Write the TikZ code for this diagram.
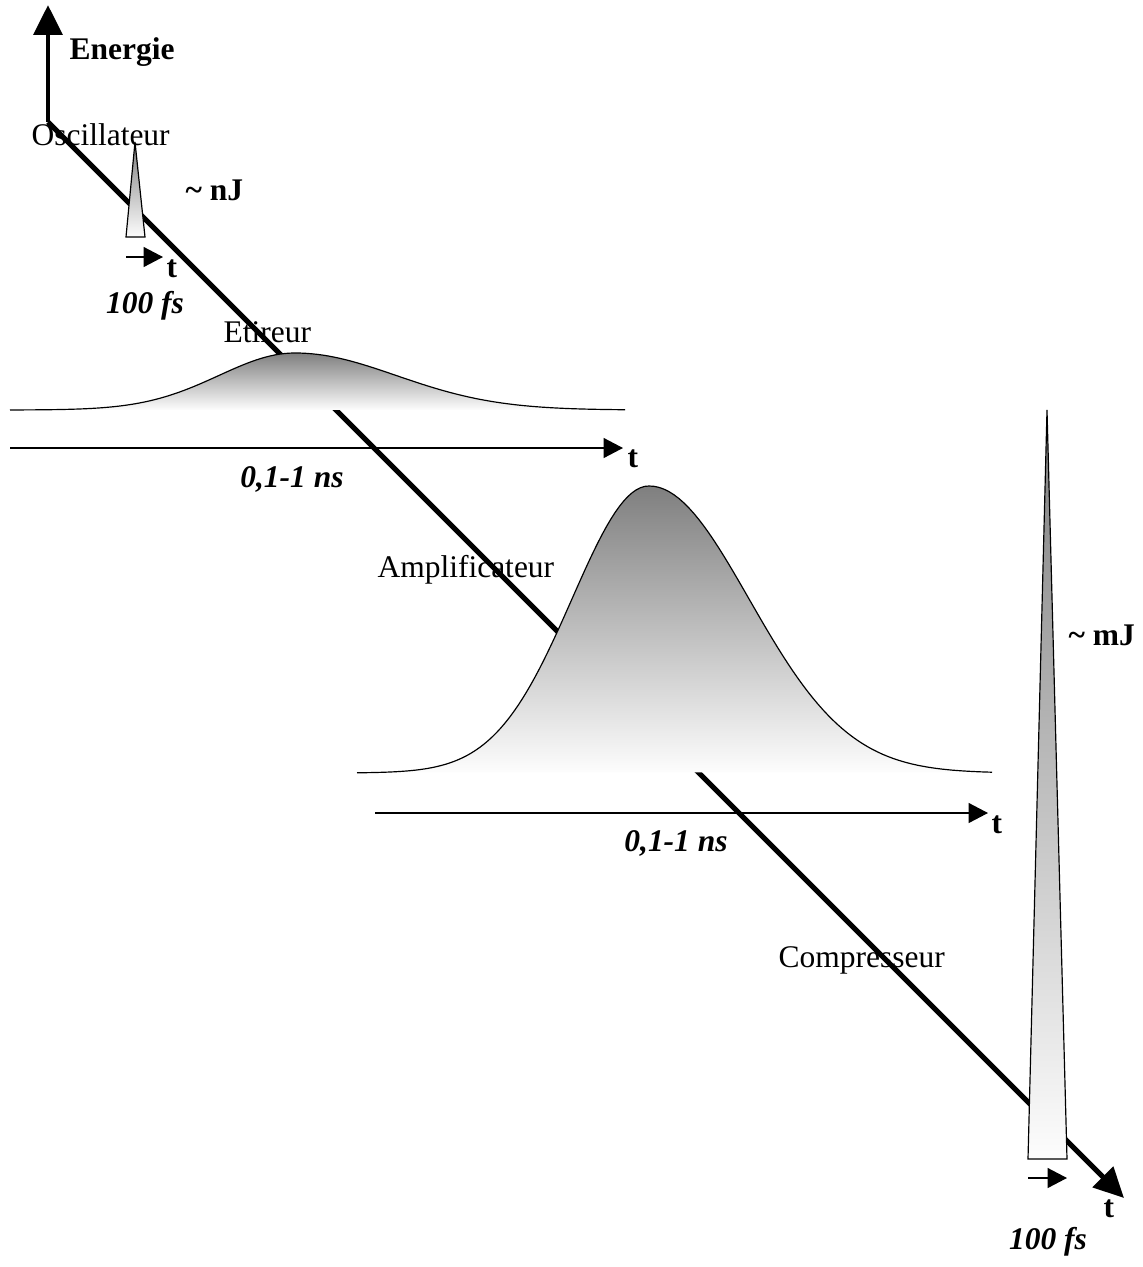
\documentclass[tikz,border=0pt]{standalone}
\usepackage{fontspec}
\setmainfont{Liberation Serif}
\usepackage{tikz}
\usetikzlibrary{arrows.meta}
\definecolor{PulseTop}{HTML}{7F7F7F}
\definecolor{PulseMid}{HTML}{C6C6C6}
\definecolor{PulseBot}{HTML}{FDFDFD}

\begin{document}
\begin{tikzpicture}[x=0.381pt, y=-0.381pt, every node/.style={font=\fontsize{12}{14}\selectfont, inner sep=0pt},
  stage/.style={anchor=base west},
  quant/.style={font=\fontsize{12}{14}\selectfont\bfseries, anchor=base west},
  dur/.style={font=\fontsize{12}{14}\selectfont\bfseries\itshape, anchor=base},
  mainaxis/.style={line width=1.9pt, -{Triangle[length=11.4pt, width=10.8pt]}},
  timeaxis/.style={line width=0.55pt, -{Triangle[length=7.4pt, width=7.6pt]}},
  pulsefill/.style={top color=PulseTop, middle color=PulseMid, bottom color=PulseBot},
  pulseline/.style={line width=0.45pt}]
  \useasboundingbox (0,0) rectangle (1143,1267);

  % stage names, the time line runs over them
  \node[stage] (osc) at (31,145) {Oscillateur};
  \node[stage] (etir) at (223,342) {Etireur};
  \node[stage] (ampli) at (377,577) {Amplificateur};
  \node[stage] (comp) at (778,967) {Compresseur};

  % energy axis and time line
  \coordinate (O) at (48,122);
  \coordinate (Etop) at (48,5);
  \coordinate (Tend) at (1124,1198);
  \draw[mainaxis] (O) -- (Etop);
  \draw[mainaxis] (O) -- (Tend);

  % oscillator pulse
  \shadedraw[pulsefill, pulseline] (135,142) -- (145,237) -- (126,237) -- cycle;

  % stretched pulse
  \shade[pulsefill] plot[domain=10:295, samples=60] (\x,{410-57*exp(-((\x-295)/76)^2/2)})
    -- plot[domain=295:625, samples=60] (\x,{410-57*exp(-((\x-295)/101)^2/2)}) -- cycle;
  \draw[pulseline] plot[domain=10:295, samples=60] (\x,{410-57*exp(-((\x-295)/76)^2/2)})
    -- plot[domain=295:625, samples=60] (\x,{410-57*exp(-((\x-295)/101)^2/2)});

  % amplified pulse
  \shade[pulsefill] plot[domain=357:649, samples=70] (\x,{773-287*exp(-((\x-649)/77)^2/2)})
    -- plot[domain=649:992, samples=70] (\x,{773-287*exp(-((\x-649)/100)^2/2)}) -- cycle;
  \draw[pulseline] plot[domain=357:649, samples=70] (\x,{773-287*exp(-((\x-649)/77)^2/2)})
    -- plot[domain=649:992, samples=70] (\x,{773-287*exp(-((\x-649)/100)^2/2)});

  % compressed pulse
  \shadedraw[pulsefill, pulseline] (1047,410) -- (1067,1159) -- (1028,1159) -- cycle;

  % time axes
  \coordinate (t1a) at (126,257);
  \coordinate (t1b) at (163,257);
  \coordinate (t2a) at (10,448);
  \coordinate (t2b) at (623,448);
  \coordinate (t3a) at (375,813);
  \coordinate (t3b) at (988,813);
  \coordinate (t4a) at (1028,1178);
  \coordinate (t4b) at (1067,1178);
  \draw[timeaxis] (t1a) -- (t1b);
  \draw[timeaxis] (t2a) -- (t2b);
  \draw[timeaxis] (t3a) -- (t3b);
  \draw[timeaxis] (t4a) -- (t4b);

  % labels
  \node[quant] (energie) at (69,59) {Energie};
  \node[quant] (nj) at (185,200) {\textasciitilde{} nJ};
  \node[quant] (mj) at (1068,645) {\textasciitilde{} mJ};
  \node[quant] (t1) at (166,277) {t};
  \node[quant] (t2) at (627,467) {t};
  \node[quant] (t3) at (991,833) {t};
  \node[quant] (t4) at (1103,1217) {t};
  \node[dur] (fs1) at (145,313) {100 fs};
  \node[dur] (ns1) at (292,487) {0,1-1 ns};
  \node[dur] (ns2) at (676,851) {0,1-1 ns};
  \node[dur] (fs2) at (1048,1249) {100 fs};
\end{tikzpicture}
\end{document}
